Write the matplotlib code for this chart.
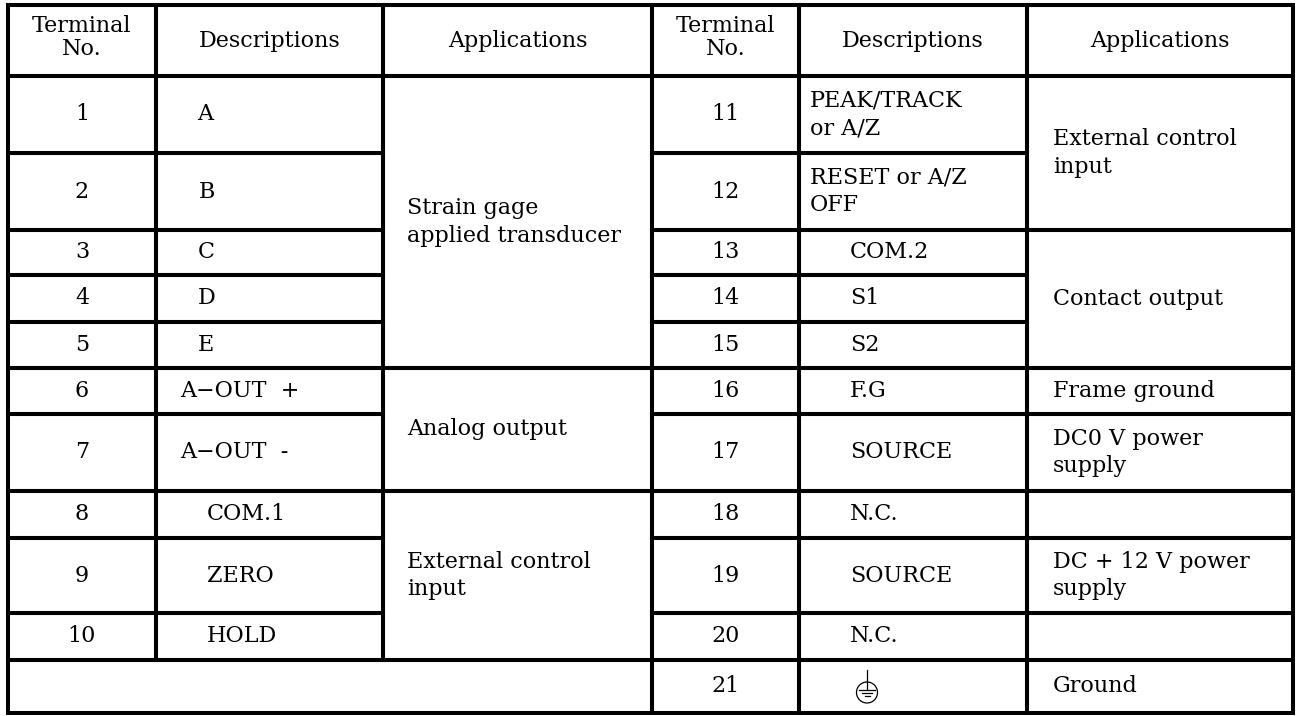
import matplotlib.pyplot as plt
from matplotlib.patches import Rectangle, Circle

# table content
header = ["Terminal\nNo.", "Descriptions", "Applications"]

left_terminals = ["1", "2", "3", "4", "5", "6", "7", "8", "9", "10"]
left_descriptions = ["A", "B", "C", "D", "E", "A\u2212OUT  +", "A\u2212OUT  -",
                     "COM.1", "ZERO", "HOLD"]
left_applications = ["Strain gage\napplied transducer", "Analog output",
                     "External control\ninput"]
left_app_spans = [5, 2, 3]

right_terminals = ["11", "12", "13", "14", "15", "16", "17", "18", "19", "20", "21"]
right_descriptions = ["PEAK/TRACK\nor A/Z", "RESET or A/Z\nOFF", "COM.2", "S1", "S2",
                      "F.G", "SOURCE", "N.C.", "SOURCE", "N.C.", ""]
right_applications = ["External control\ninput", "Contact output", "Frame ground",
                      "DC0 V power\nsupply", "", "DC + 12 V power\nsupply", "", "Ground"]
right_app_spans = [2, 3, 1, 1, 1, 1, 1, 1]

# layout (pixels)
col_x = [8, 156, 383, 652, 799, 1027, 1293]
row_y = [5, 76, 153, 230, 275, 322, 368, 414, 491, 538, 613, 660, 713]
left_desc_x = [197, 199, 198, 198, 198, 180, 180, 207, 207, 207]
right_desc_x = [810, 810, 850, 850, 850, 850, 850, 850, 850, 850, 852]
app_pad = 24

FS = 16
LW = 2.9
font = dict(family="DejaVu Serif", fontsize=FS, color="black", linespacing=1.34)
head_font = dict(font, linespacing=1.1)

fig = plt.figure(figsize=(12.98, 7.16), dpi=100)
ax = fig.add_axes([0, 0, 1, 1])
ax.set_xlim(0, 1298)
ax.set_ylim(716, 0)
ax.axis("off")


def cell(x0, x1, y0, y1):
    ax.add_patch(Rectangle((x0, y0), x1 - x0, y1 - y0, fill=False,
                           edgecolor="black", lw=LW, joinstyle="miter"))


def mid(a, b):
    return (a + b) / 2


# header row
for half in (0, 3):
    for j, h in enumerate(header):
        x0, x1 = col_x[half + j], col_x[half + j + 1]
        cell(x0, x1, row_y[0], row_y[1])
        yc = mid(row_y[0], row_y[1]) - (3 if "\n" in h else 0)
        ax.text(mid(x0, x1), yc, h, ha="center", va="center",
                multialignment="center", **head_font)

# left half
for i, (t, d) in enumerate(zip(left_terminals, left_descriptions)):
    y0, y1 = row_y[i + 1], row_y[i + 2]
    cell(col_x[0], col_x[1], y0, y1)
    cell(col_x[1], col_x[2], y0, y1)
    ax.text(mid(col_x[0], col_x[1]), mid(y0, y1), t, ha="center", va="center", **font)
    ax.text(left_desc_x[i], mid(y0, y1), d, ha="left", va="center", **font)

r = 1
for txt, span in zip(left_applications, left_app_spans):
    y0, y1 = row_y[r], row_y[r + span]
    cell(col_x[2], col_x[3], y0, y1)
    ax.text(col_x[2] + app_pad, mid(y0, y1), txt, ha="left", va="center", **font)
    r += span

# empty merged cell under the left half
cell(col_x[0], col_x[3], row_y[11], row_y[12])

# right half
for i, (t, d) in enumerate(zip(right_terminals, right_descriptions)):
    y0, y1 = row_y[i + 1], row_y[i + 2]
    cell(col_x[3], col_x[4], y0, y1)
    cell(col_x[4], col_x[5], y0, y1)
    ax.text(mid(col_x[3], col_x[4]), mid(y0, y1), t, ha="center", va="center", **font)
    if d:
        ax.text(right_desc_x[i], mid(y0, y1), d, ha="left", va="center", **font)

r = 1
for txt, span in zip(right_applications, right_app_spans):
    y0, y1 = row_y[r], row_y[r + span]
    cell(col_x[5], col_x[6], y0, y1)
    if txt:
        ax.text(col_x[5] + app_pad + 2, mid(y0, y1), txt, ha="left", va="center", **font)
    r += span

# protective earth symbol for terminal 21
gx = right_desc_x[-1] + 15
gy = mid(row_y[11], row_y[12])
ax.add_patch(Circle((gx, gy + 6), 10.5, fill=False, edgecolor="black", lw=0.9))
ax.plot([gx, gx], [gy - 17, gy + 3], color="black", lw=0.9)
for k, hw in enumerate([8, 5, 2.5]):
    ax.plot([gx - hw, gx + hw], [gy + 3 + 3 * k, gy + 3 + 3 * k], color="black", lw=0.9)

fig.savefig("out.png", dpi=100, facecolor="white")
